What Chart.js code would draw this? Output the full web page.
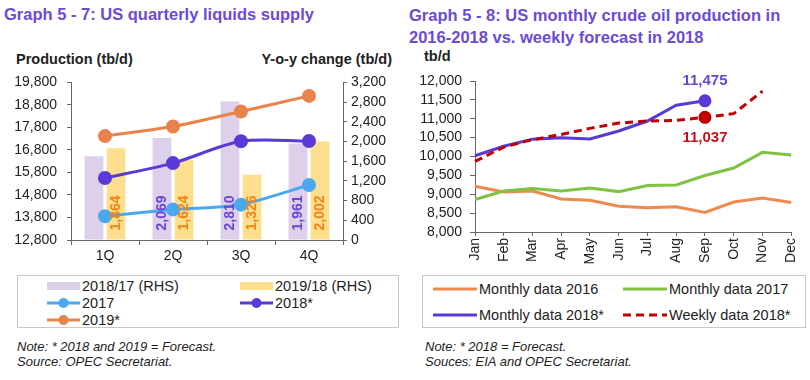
<!DOCTYPE html>
<html>
<head>
<meta charset="utf-8">
<script src="https://cdn.jsdelivr.net/npm/chart.js@4.4.1/dist/chart.umd.min.js"></script>
<style>
  body { margin: 0; background: #fff; font-family: "Liberation Sans", Arial, sans-serif; color: #222; }
  #wrap { position: relative; width: 810px; height: 380px; overflow: hidden; }
  .abs { position: absolute; white-space: nowrap; }
  .title { font-weight: bold; font-size: 16.5px; color: #6c4ad6; line-height: 22px; }
  .axt { font-weight: bold; font-size: 14.5px; color: #222; }
  .note { font-style: italic; font-size: 13px; line-height: 15px; color: #222; }
  .legend { position: absolute; border: 1px solid #c8c8c8; box-sizing: border-box; display: grid; font-size: 14.5px; color: #222; }
  .li { display: flex; align-items: center; white-space: nowrap; }
  .li svg { margin-right: 2px; }
  canvas { position: absolute; }
</style>
</head>
<body>
<div id="wrap">
  <div class="abs title" style="left:4px;top:3px">Graph 5 - 7: US quarterly liquids supply</div>
  <div class="abs axt" style="left:16px;top:51px">Production (tb/d)</div>
  <div class="abs axt" style="right:418px;top:51px">Y-o-y change (tb/d)</div>
  <canvas id="leftChart" width="400" height="210" style="left:0;top:64px"></canvas>
  <div id="leftLegend" class="legend" style="left:17px;top:275px;width:382px;height:53px;grid-template-columns:193px 1fr;padding:1px 0 0 29px;grid-auto-rows:17.3px"></div>
  <div class="abs note" style="left:17px;top:339px">Note: * 2018 and 2019 = Forecast.<br>Source: OPEC Secretariat.</div>

  <div class="abs title" style="left:409px;top:4px">Graph 5 - 8: US monthly crude oil production in<br>2016-2018 vs. weekly forecast in 2018</div>
  <div class="abs axt" style="left:424px;top:48px">tb/d</div>
  <canvas id="rightChart" width="405" height="210" style="left:405px;top:64px"></canvas>
  <div id="rightLegend" class="legend" style="left:422px;top:275px;width:384px;height:53px;grid-template-columns:190px 1fr;padding:0 0 0 10px;grid-auto-rows:26px"></div>
  <div class="abs note" style="left:425px;top:339px">Note: * 2018 = Forecast.<br>Souces: EIA and OPEC Secretariat.</div>
</div>

<script>
// Graph 5-7 data
const quarters = ["1Q", "2Q", "3Q", "4Q"];
const yoy1817 = [1700, 2069, 2810, 1961];
const yoy1918 = [1864, 1624, 1326, 2002];
const prod2017 = [13855, 14150, 14370, 15240];
const prod2018 = [15555, 16215, 17185, 17195];
const prod2019 = [17415, 17840, 18510, 19200];
const leftTicks = [12800, 13800, 14800, 15800, 16800, 17800, 18800, 19800];
const rightTicks = [0, 400, 800, 1200, 1600, 2000, 2400, 2800, 3200];
const hiddenBarLabels = [[0], []]; // the 1Q 2018/17 label is not shown

// Graph 5-8 data
const months = ["Jan", "Feb", "Mar", "Apr", "May", "Jun", "Jul", "Aug", "Sep", "Oct", "Nov", "Dec"];
const monthly2016 = [9210, 9060, 9085, 8875, 8840, 8680, 8645, 8670, 8520, 8795, 8900, 8780];
const monthly2017 = [8860, 9085, 9150, 9085, 9165, 9070, 9230, 9245, 9495, 9695, 10110, 10040];
const monthly2018 = [10020, 10270, 10460, 10495, 10465, 10675, 10940, 11360, 11475, null, null, null];
const weekly2018 = [9870, 10250, 10445, 10585, 10745, 10885, 10940, 10955, 11037, 11135, 11730, null];
const markIdx = 8; // Sep

const tickFont = { family: "Liberation Sans, Arial, sans-serif", size: 14 };
const fmt = (v) => v.toLocaleString("en-US");

const barLabels = {
  id: "barLabels",
  afterDatasetsDraw(chart) {
    const ctx = chart.ctx;
    ctx.save();
    ctx.font = "bold 14px Liberation Sans, Arial, sans-serif";
    ctx.textAlign = "left";
    ctx.textBaseline = "middle";
    chart.data.datasets.forEach((ds, i) => {
      if (ds.type !== "bar") return;
      chart.getDatasetMeta(i).data.forEach((el, j) => {
        if (hiddenBarLabels[i].includes(j)) return;
        ctx.save();
        ctx.translate(el.x, el.base - 9);
        ctx.rotate(-Math.PI / 2);
        ctx.fillStyle = ds.labelColor;
        ctx.fillText(fmt(ds.data[j]), 0, 0);
        ctx.restore();
      });
    });
    ctx.restore();
  },
};

const pointLabels = {
  id: "pointLabels",
  afterDatasetsDraw(chart) {
    const ctx = chart.ctx;
    ctx.save();
    ctx.font = "bold 15px Liberation Sans, Arial, sans-serif";
    ctx.textAlign = "center";
    ctx.textBaseline = "middle";
    chart.data.datasets.forEach((ds, i) => {
      if (ds.labelOffset == null) return;
      const el = chart.getDatasetMeta(i).data[markIdx];
      ctx.fillStyle = ds.labelColor;
      ctx.fillText(fmt(ds.data[markIdx]), el.x, el.y + ds.labelOffset);
    });
    ctx.restore();
  },
};

function fixWidth(w) {
  return (scale) => { scale.width = w; };
}

const leftChart = new Chart(document.getElementById("leftChart"), {
  type: "bar",
  data: {
    labels: quarters,
    datasets: [
      { type: "bar", label: "2018/17 (RHS)", data: yoy1817, yAxisID: "y1", backgroundColor: "#dcd0ea", labelColor: "#6a46d4", order: 2, categoryPercentage: 0.65, barPercentage: 0.85 },
      { type: "bar", label: "2019/18 (RHS)", data: yoy1918, yAxisID: "y1", backgroundColor: "#fedf8e", labelColor: "#ee8418", order: 2, categoryPercentage: 0.65, barPercentage: 0.85 },
      { type: "line", label: "2017", data: prod2017, yAxisID: "y", borderColor: "#4aa8f0", backgroundColor: "#4aa8f0", borderWidth: 3, pointRadius: 5.5, order: 1, tension: 0.25 },
      { type: "line", label: "2018*", data: prod2018, yAxisID: "y", borderColor: "#5a3ad6", backgroundColor: "#5a3ad6", borderWidth: 3, pointRadius: 5.5, order: 1, tension: 0.3 },
      { type: "line", label: "2019*", data: prod2019, yAxisID: "y", borderColor: "#e8834a", backgroundColor: "#e8834a", borderWidth: 3, pointRadius: 5.5, order: 1, tension: 0.2 },
    ],
  },
  options: {
    responsive: false,
    animation: false,
    layout: { padding: { top: 17, left: 0, right: 0, bottom: 0 } },
    plugins: { legend: { display: false }, tooltip: { enabled: false } },
    scales: {
      x: {
        offset: true,
        afterFit: (s) => { s.height = 34; },
        grid: { offset: true, drawOnChartArea: false, tickLength: 5, color: "#666" },
        border: { color: "#666" },
        ticks: { font: tickFont, color: "#222", padding: 3 },
      },
      y: {
        position: "left",
        min: 12800, max: 19800,
        afterFit: fixWidth(71),
        afterBuildTicks: (s) => { s.ticks = leftTicks.map((v) => ({ value: v })); },
        grid: { drawOnChartArea: false, tickLength: 4, color: "#666" },
        border: { color: "#666" },
        ticks: { font: tickFont, color: "#222", padding: 10, autoSkip: false, callback: (v) => fmt(v) },
      },
      y1: {
        position: "right",
        min: 0, max: 3200,
        afterFit: fixWidth(57),
        afterBuildTicks: (s) => { s.ticks = rightTicks.map((v) => ({ value: v })); },
        grid: { drawOnChartArea: false, tickLength: 4, color: "#666" },
        border: { color: "#666" },
        ticks: { font: tickFont, color: "#222", padding: 4, autoSkip: false, callback: (v) => fmt(v) },
      },
    },
  },
  plugins: [barLabels],
});

const rightChart = new Chart(document.getElementById("rightChart"), {
  type: "line",
  data: {
    labels: months,
    datasets: [
      { label: "Monthly data 2016", data: monthly2016, borderColor: "#ee8a4e", borderWidth: 3, pointRadius: 0, order: 3 },
      { label: "Monthly data 2017", data: monthly2017, borderColor: "#80c243", borderWidth: 3, pointRadius: 0, order: 2 },
      { label: "Monthly data 2018*", data: monthly2018, borderColor: "#5a3ad6", backgroundColor: "#5a3ad6", borderWidth: 3,
        pointRadius: (c) => (c.dataIndex === markIdx ? 5 : 0), order: 1, labelOffset: -20, labelColor: "#6a46d4" },
      { label: "Weekly data 2018*", data: weekly2018, borderColor: "#c00000", backgroundColor: "#c00000", borderWidth: 3, borderDash: [8, 5],
        pointRadius: (c) => (c.dataIndex === markIdx ? 5 : 0), order: 0, labelOffset: 21, labelColor: "#c0141a" },
    ],
  },
  options: {
    responsive: false,
    animation: false,
    layout: { padding: { top: 17, left: 0, right: 13, bottom: 0 } },
    plugins: { legend: { display: false }, tooltip: { enabled: false } },
    scales: {
      x: {
        offset: false,
        afterFit: (s) => { s.height = 42; },
        grid: { drawOnChartArea: false, tickLength: 4, color: "#666" },
        border: { color: "#666" },
        ticks: { font: tickFont, color: "#222", padding: 2, maxRotation: 90, minRotation: 90, autoSkip: false },
      },
      y: {
        min: 8000, max: 12000,
        afterFit: fixWidth(70),
        ticks: { stepSize: 500, font: tickFont, color: "#222", padding: 8, autoSkip: false, callback: (v) => fmt(v) },
        grid: { drawOnChartArea: false, tickLength: 5, color: "#666" },
        border: { color: "#666" },
      },
    },
  },
  plugins: [pointLabels],
});

function swatch(ds, w) {
  const h = 12;
  if (ds.type === "bar") {
    return `<svg width="${w}" height="${h}"><rect x="0" y="2" width="${w}" height="8" fill="${ds.backgroundColor}"/></svg>`;
  }
  const dash = ds.borderDash ? `stroke-dasharray="${ds.borderDash.join(" ")}"` : "";
  const dot = typeof ds.pointRadius === "number" && ds.pointRadius > 0
    ? `<circle cx="${w / 2}" cy="6" r="5" fill="${ds.borderColor}"/>` : "";
  return `<svg width="${w}" height="${h}"><line x1="0" y1="6" x2="${w}" y2="6" stroke="${ds.borderColor}" stroke-width="3" ${dash}/>${dot}</svg>`;
}

function buildLegend(chart, el, w) {
  el.innerHTML = chart.data.datasets
    .map((ds) => `<div class="li">${swatch(ds, w)}<span>${ds.label}</span></div>`)
    .join("");
}

buildLegend(leftChart, document.getElementById("leftLegend"), 33);
buildLegend(rightChart, document.getElementById("rightLegend"), 44);
</script>
</body>
</html>
